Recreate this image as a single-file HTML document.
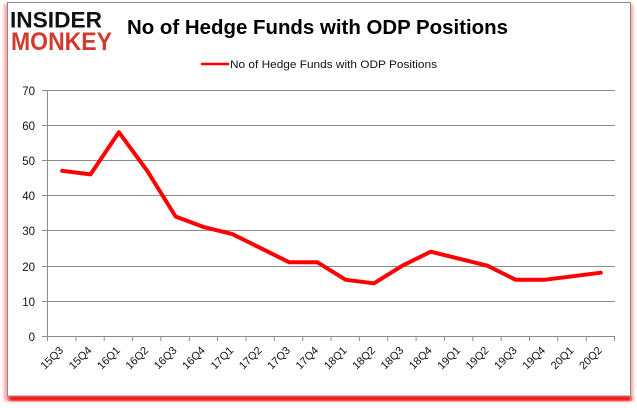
<!DOCTYPE html>
<html><head><meta charset="utf-8"><style>
html,body{margin:0;padding:0;background:#fff;}
svg{display:block;}
text{font-family:"Liberation Sans",sans-serif;}
</style></head><body>
<svg width="637" height="408" viewBox="0 0 637 408" xmlns="http://www.w3.org/2000/svg">
<defs>
<filter id="blur" x="-10%" y="-10%" width="120%" height="120%"><feGaussianBlur stdDeviation="1.6"/></filter>
</defs>
<!-- red shadow -->
<rect x="4" y="4" width="629" height="397" fill="#ff3030" opacity="0.45" filter="url(#blur)"/>
<rect x="9" y="396" width="622" height="5" fill="#ff0000" filter="url(#blur)"/>
<rect x="7.5" y="2.5" width="623" height="393.5" fill="#fff" stroke="#8a8a8a" stroke-width="1"/>
<!-- logo -->
<text x="10" y="27.5" font-size="22" font-weight="bold" fill="#111" textLength="92" lengthAdjust="spacingAndGlyphs">INSIDER</text>
<text x="11" y="50" font-size="25" font-weight="bold" fill="#d23a2e" textLength="101" lengthAdjust="spacingAndGlyphs">MONKEY</text>
<!-- title -->
<text x="127" y="34" font-size="20" font-weight="bold" fill="#000" textLength="381" lengthAdjust="spacingAndGlyphs">No of Hedge Funds with ODP Positions</text>
<!-- legend -->
<line x1="201" y1="64" x2="229" y2="64" stroke="#ff0000" stroke-width="2.5"/>
<text x="230" y="68" font-size="11" fill="#111" textLength="207" lengthAdjust="spacingAndGlyphs">No of Hedge Funds with ODP Positions</text>
<!-- gridlines -->
<g stroke="#8c8c8c" stroke-width="1">
<line x1="42" y1="90.5" x2="615" y2="90.5"/>
<line x1="42" y1="125.5" x2="615" y2="125.5"/>
<line x1="42" y1="160.5" x2="615" y2="160.5"/>
<line x1="42" y1="195.5" x2="615" y2="195.5"/>
<line x1="42" y1="230.5" x2="615" y2="230.5"/>
<line x1="42" y1="266.5" x2="615" y2="266.5"/>
<line x1="42" y1="301.5" x2="615" y2="301.5"/>
<line x1="42" y1="336.5" x2="615" y2="336.5"/>
<line x1="47.5" y1="90" x2="47.5" y2="336"/>
</g>
<!-- x ticks -->
<g stroke="#8c8c8c" stroke-width="1">
<line x1="47.5" y1="336" x2="47.5" y2="341"/><line x1="75.9" y1="336" x2="75.9" y2="341"/><line x1="104.2" y1="336" x2="104.2" y2="341"/><line x1="132.6" y1="336" x2="132.6" y2="341"/><line x1="160.9" y1="336" x2="160.9" y2="341"/><line x1="189.3" y1="336" x2="189.3" y2="341"/><line x1="217.6" y1="336" x2="217.6" y2="341"/><line x1="246" y1="336" x2="246" y2="341"/><line x1="274.3" y1="336" x2="274.3" y2="341"/><line x1="302.7" y1="336" x2="302.7" y2="341"/><line x1="331" y1="336" x2="331" y2="341"/><line x1="359.4" y1="336" x2="359.4" y2="341"/><line x1="387.7" y1="336" x2="387.7" y2="341"/><line x1="416.1" y1="336" x2="416.1" y2="341"/><line x1="444.4" y1="336" x2="444.4" y2="341"/><line x1="472.8" y1="336" x2="472.8" y2="341"/><line x1="501.1" y1="336" x2="501.1" y2="341"/><line x1="529.5" y1="336" x2="529.5" y2="341"/><line x1="557.8" y1="336" x2="557.8" y2="341"/><line x1="586.2" y1="336" x2="586.2" y2="341"/><line x1="614.5" y1="336" x2="614.5" y2="341"/>
</g>
<!-- y labels -->
<g font-size="11.5" fill="#111" text-anchor="end">
<text x="35" y="95">70</text><text x="35" y="130">60</text><text x="35" y="165">50</text><text x="35" y="200">40</text><text x="35" y="235">30</text><text x="35" y="271">20</text><text x="35" y="306">10</text><text x="35" y="341">0</text>
</g>
<!-- series -->
<polyline fill="none" stroke="#ff0000" stroke-width="4" stroke-linejoin="round" stroke-linecap="round"
points="62.2,170.8 90.5,174.4 118.9,132.2 147.2,170.8 175.6,216.5 203.9,227.1 232.3,234.1 260.6,248.1 289,262.2 317.3,262.2 345.7,279.8 374,283.3 402.4,265.7 430.7,251.7 459.1,258.7 487.4,265.7 515.8,279.8 544.1,279.8 572.5,276.3 600.8,272.7"/>
<!-- x labels -->
<g font-size="11" fill="#111" text-anchor="end">
<text transform="translate(64,351) rotate(-45)">15Q3</text>
<text transform="translate(92.3,351) rotate(-45)">15Q4</text>
<text transform="translate(120.7,351) rotate(-45)">16Q1</text>
<text transform="translate(149,351) rotate(-45)">16Q2</text>
<text transform="translate(177.4,351) rotate(-45)">16Q3</text>
<text transform="translate(205.7,351) rotate(-45)">16Q4</text>
<text transform="translate(234.1,351) rotate(-45)">17Q1</text>
<text transform="translate(262.4,351) rotate(-45)">17Q2</text>
<text transform="translate(290.8,351) rotate(-45)">17Q3</text>
<text transform="translate(319.1,351) rotate(-45)">17Q4</text>
<text transform="translate(347.5,351) rotate(-45)">18Q1</text>
<text transform="translate(375.8,351) rotate(-45)">18Q2</text>
<text transform="translate(404.2,351) rotate(-45)">18Q3</text>
<text transform="translate(432.5,351) rotate(-45)">18Q4</text>
<text transform="translate(460.9,351) rotate(-45)">19Q1</text>
<text transform="translate(489.2,351) rotate(-45)">19Q2</text>
<text transform="translate(517.6,351) rotate(-45)">19Q3</text>
<text transform="translate(545.9,351) rotate(-45)">19Q4</text>
<text transform="translate(574.3,351) rotate(-45)">20Q1</text>
<text transform="translate(602.6,351) rotate(-45)">20Q2</text>
</g>
</svg>
</body></html>
